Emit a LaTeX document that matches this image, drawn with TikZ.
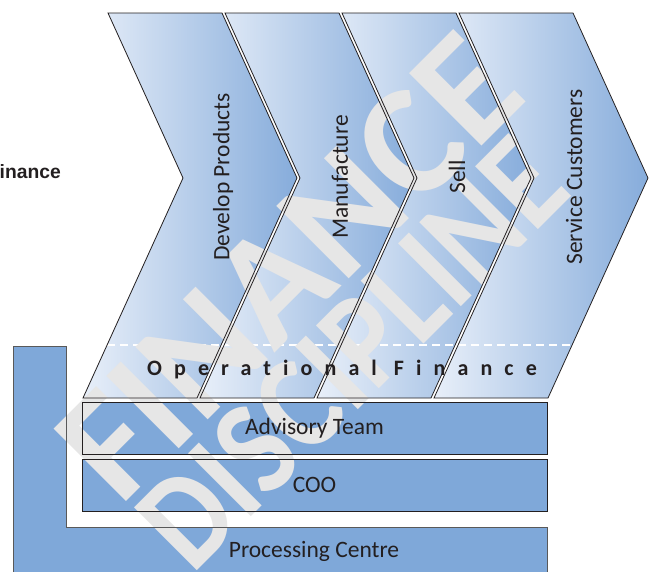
\documentclass[tikz,border=0pt]{standalone}
\usepackage{fontspec}
\setmainfont{Carlito}
\newfontfamily\spacedfont[LetterSpace=55, Ligatures=NoCommon]{Carlito}
\newfontfamily\markfont{Carlito}
\newfontfamily\headfont{Liberation Sans}
\usetikzlibrary{positioning}

\definecolor{chevlight}{HTML}{E8EFF9}
\definecolor{chevdark}{HTML}{86ACDB}
\definecolor{boxblue}{HTML}{7FA8D9}
\definecolor{markgray}{HTML}{E6E6E6}
\definecolor{inkdark}{HTML}{231F20}

\tikzset{
  chevshade/.style={left color=chevlight, right color=chevdark},
  chevline/.style={draw=inkdark, line width=0.8pt},
  boxframe/.style={draw=inkdark, line width=0.8pt, inner sep=0pt,
    font=\fontsize{23.5}{26}\selectfont, text=inkdark},
  chevlabel/.style={rotate=90, font=\fontsize{23.5}{26}\selectfont, text=inkdark},
  marktext/.style={rotate=45, anchor=base west, inner sep=0pt, text=markgray,
    font=\markfont\bfseries}
}

\begin{document}
\begin{tikzpicture}[x=1pt, y=-1pt]
  \useasboundingbox (0,0) rectangle (655,571);
  \clip (0,0) rectangle (655,571);

  % chevron fills
  \foreach \i in {0,...,3}{
    \pgfmathsetmacro\xo{108+117*\i}
    \shade[chevshade] (\xo,13) -- ({\xo+114},13) -- ({\xo+189},178)
      -- ({\xo+89},398) -- ({\xo-25},398) -- ({\xo+75},178) -- cycle;
  }
  \draw[white, line width=1.6pt, dash pattern=on 8pt off 5pt] (107,345) -- (572,345);

  % box fills
  \fill[boxblue] (82,402) rectangle (547,454);
  \fill[boxblue] (82,459) rectangle (547,511);
  \fill[boxblue] (13,346) -- (66,346) -- (66,527) -- (547,527) -- (547,580)
    -- (13,580) -- cycle;

  % watermark
  \node[marktext] (markfin) at (120,508) {\fontsize{158}{158}\selectfont FINANCE};
  \node[marktext] (markdis) at (192,576) {\scalebox{0.87}[1]{\fontsize{137}{137}\selectfont DISCIPLINE}};

  \node[font=\spacedfont\bfseries\fontsize{22}{24}\selectfont, text=inkdark]
    (opfin) at (342,370) {Operational Finance};

  % chevron outlines and labels
  \foreach \i/\lab in {0/Develop Products, 1/Manufacture, 2/Sell, 3/Service Customers}{
    \pgfmathsetmacro\xo{108+117*\i}
    \draw[chevline] (\xo,13) -- ({\xo+114},13) -- ({\xo+189},178)
      -- ({\xo+89},398) -- ({\xo-25},398) -- ({\xo+75},178) -- cycle;
    \node[chevlabel] (step\i) at ({\xo+115},177) {\lab};
  }

  \node[boxframe, minimum width=465pt, minimum height=52pt] (advisory) at (314.5,428) {Advisory Team};
  \node[boxframe, minimum width=465pt, minimum height=52pt] (coo) at (314.5,485) {COO};
  \draw[draw=black!65, line width=0.9pt] (13,580) -- (13,346) -- (66,346) -- (66,527)
    -- (547,527) -- (547,580);
  \node[font=\fontsize{23.5}{26}\selectfont, text=inkdark] (centre) at (314,551) {Processing Centre};

  \node[anchor=base east, inner sep=0pt, text=inkdark,
    font=\headfont\bfseries\fontsize{19.3}{22}\selectfont] (fin) at (61,178) {Finance};
\end{tikzpicture}
\end{document}
